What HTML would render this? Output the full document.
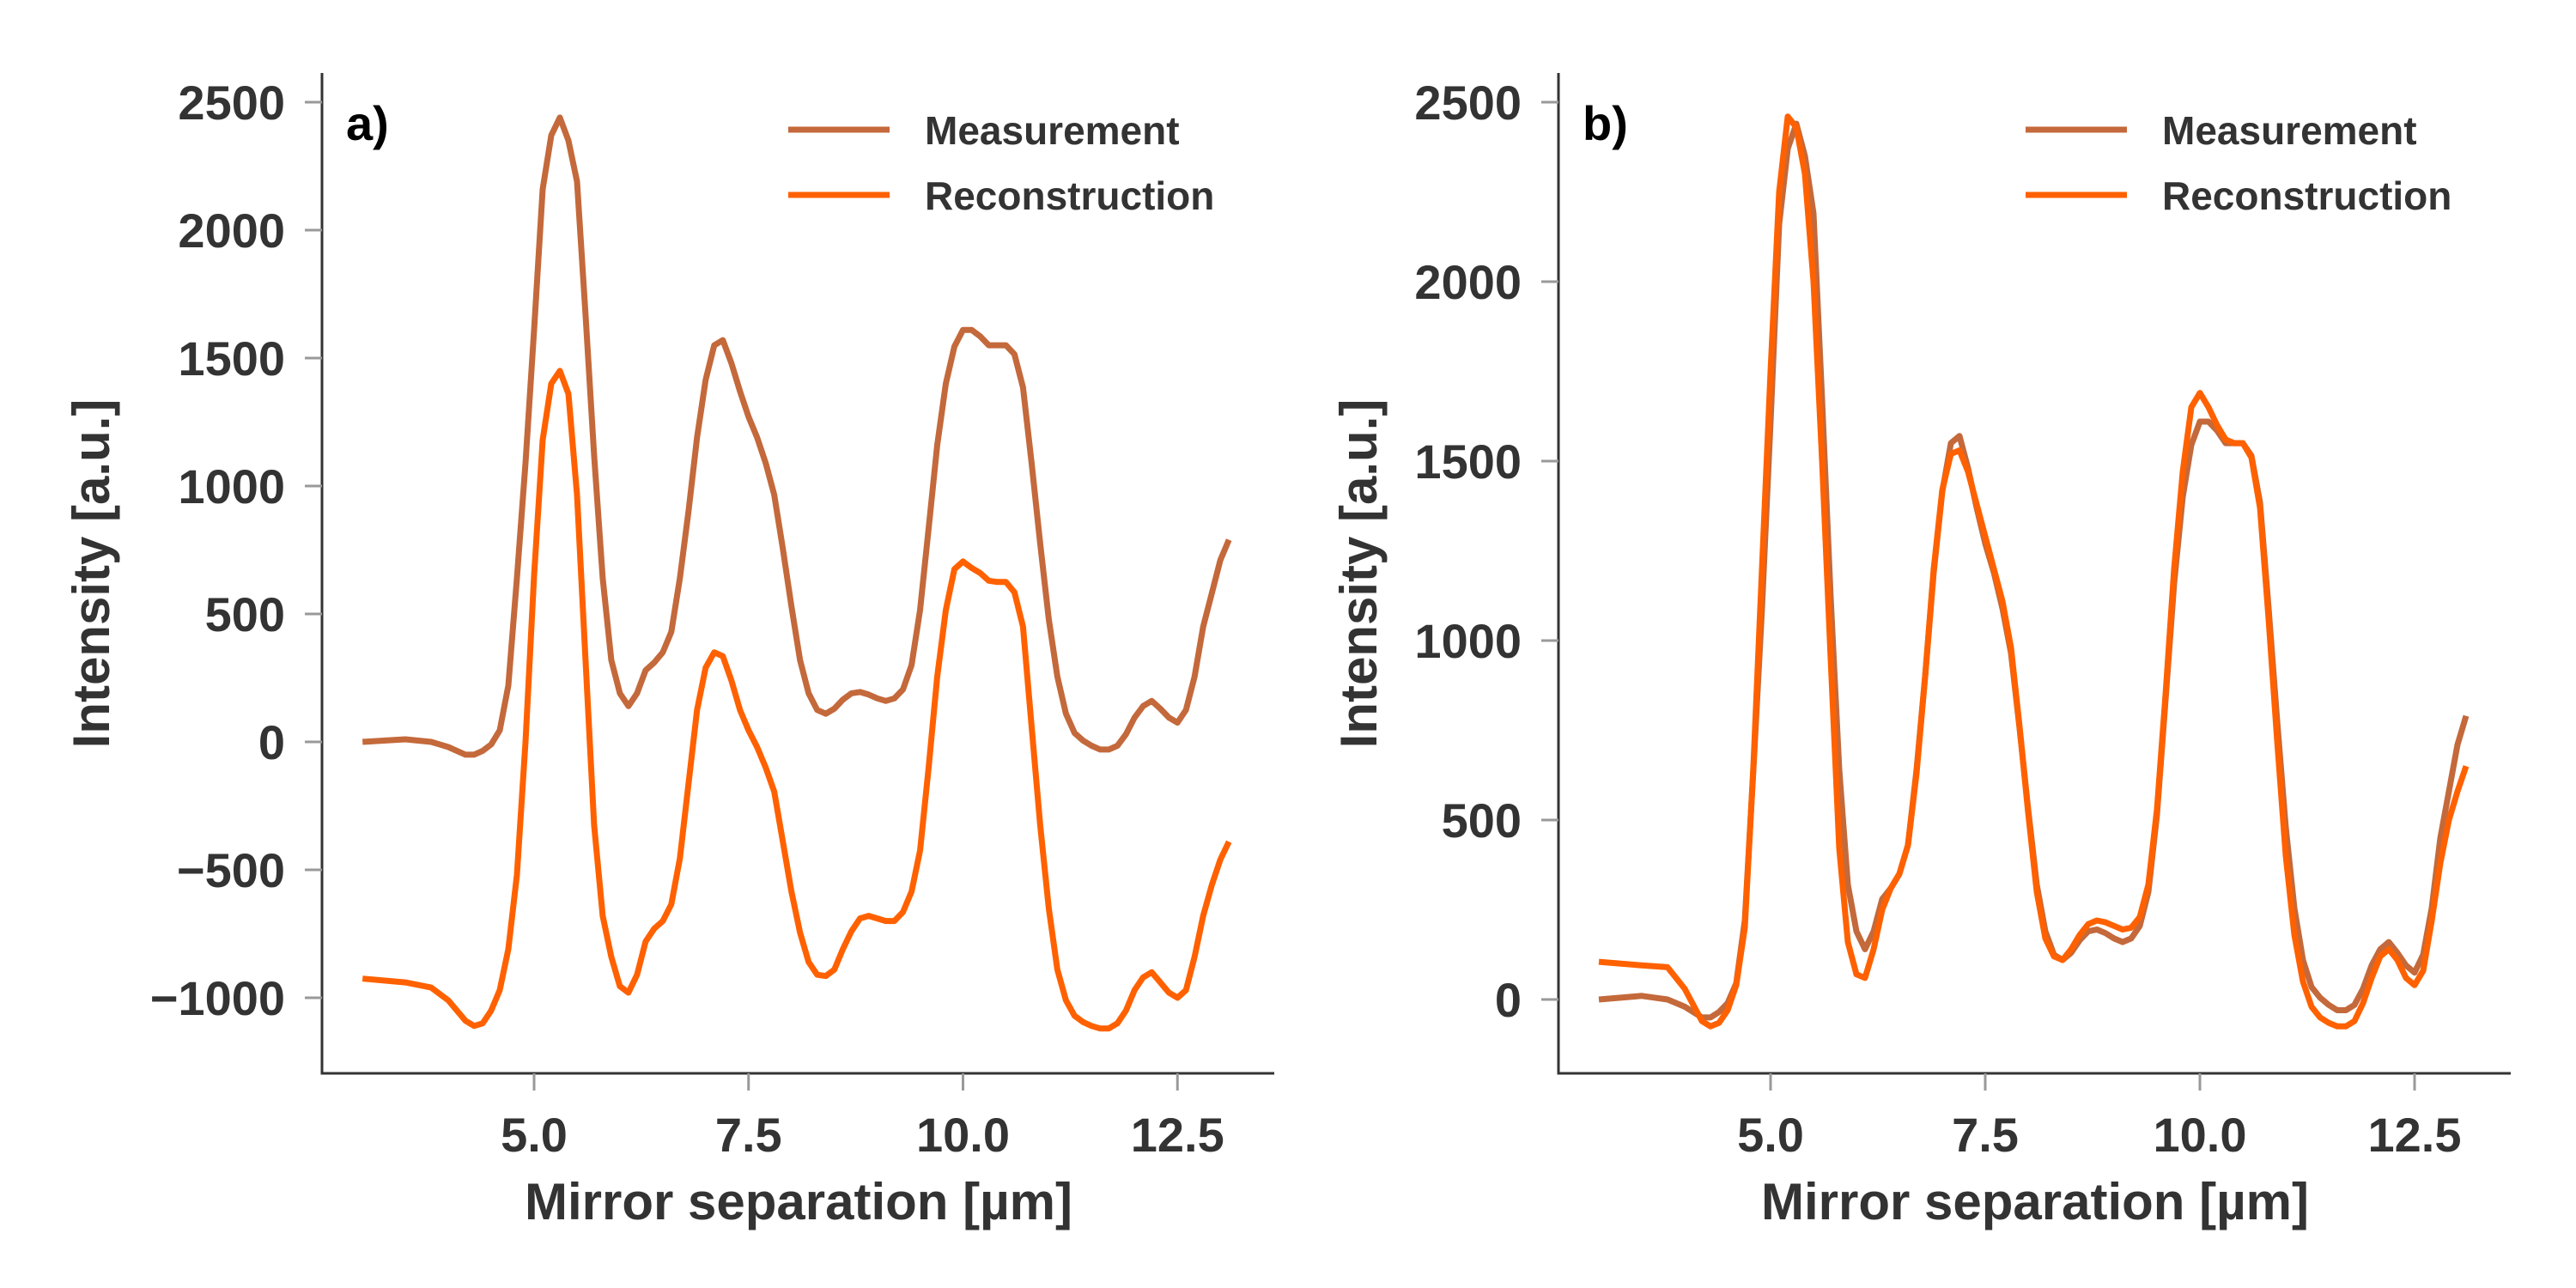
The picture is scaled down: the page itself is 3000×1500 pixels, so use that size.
<!DOCTYPE html>
<html><head><meta charset="utf-8"><style>
html,body{margin:0;padding:0;background:#fff;}
svg{display:block;font-family:"Liberation Sans",sans-serif;}
</style></head><body>
<svg id="chart" width="3000" height="1500" viewBox="0 0 3000 1500"></svg>
<script>
const xs=[3.0,3.5,3.8,4.0,4.2,4.3,4.4,4.5,4.6,4.7,4.8,4.9,5.0,5.1,5.2,5.3,5.4,5.5,5.6,5.7,5.8,5.9,6.0,6.1,6.2,6.3,6.4,6.5,6.6,6.7,6.8,6.9,7.0,7.1,7.2,7.3,7.4,7.5,7.6,7.7,7.8,7.9,8.0,8.1,8.2,8.3,8.4,8.5,8.6,8.7,8.8,8.9,9.0,9.1,9.2,9.3,9.4,9.5,9.6,9.7,9.8,9.9,10.0,10.1,10.2,10.3,10.4,10.5,10.6,10.7,10.8,10.9,11.0,11.1,11.2,11.3,11.4,11.5,11.6,11.7,11.8,11.9,12.0,12.1,12.2,12.3,12.4,12.5,12.6,12.7,12.8,12.9,13.0,13.1];
const measurement=[0,10,0,-20,-50,-50,-35,-10,45,220,640,1090,1610,2160,2370,2440,2350,2190,1670,1120,640,320,190,140,190,280,310,350,430,640,900,1190,1415,1550,1570,1480,1370,1270,1190,1090,965,755,530,320,190,125,110,130,165,190,195,185,170,160,170,205,300,515,835,1160,1400,1545,1610,1610,1585,1550,1550,1550,1515,1385,1090,775,480,255,110,35,5,-15,-30,-30,-15,30,95,140,160,130,95,75,125,255,450,580,710,790];
const reconA=[-925,-940,-960,-1010,-1090,-1110,-1100,-1050,-970,-810,-520,0,650,1180,1400,1450,1360,965,320,-325,-680,-840,-955,-980,-910,-780,-730,-700,-635,-455,-165,125,290,350,335,240,125,45,-20,-100,-195,-390,-585,-745,-860,-910,-915,-890,-810,-740,-690,-680,-690,-700,-700,-665,-585,-425,-100,255,515,675,705,680,660,630,625,625,585,450,60,-325,-650,-890,-1010,-1070,-1095,-1110,-1120,-1120,-1100,-1050,-970,-920,-900,-940,-980,-1000,-970,-840,-680,-560,-460,-390];
const reconB=[105,95,90,30,-60,-75,-65,-30,40,200,650,1200,1750,2250,2460,2430,2300,2000,1500,950,420,160,70,60,140,250,310,350,430,630,900,1200,1420,1520,1530,1470,1380,1290,1200,1110,980,760,520,300,170,120,110,140,180,210,220,215,205,195,200,230,320,530,850,1200,1470,1650,1690,1650,1600,1560,1550,1550,1510,1370,1060,720,400,180,50,-20,-50,-65,-75,-75,-60,-10,60,120,140,110,60,40,80,220,380,500,580,650];
const xTicks=[5.0,7.5,10.0,12.5];
const xTickLabels=["5.0","7.5","10.0","12.5"];
const yTicksA=[-1000,-500,0,500,1000,1500,2000,2500];
const yTickLabelsA=["\u22121000","\u2212500","0","500","1000","1500","2000","2500"];
const yTicksB=[0,500,1000,1500,2000,2500];
const yTickLabelsB=["0","500","1000","1500","2000","2500"];

const NS="http://www.w3.org/2000/svg";
const svg=document.getElementById('chart');
function mk(tag,attrs,parent){const e=document.createElementNS(NS,tag);for(const k in attrs)e.setAttribute(k,attrs[k]);(parent||svg).appendChild(e);return e;}
const MC="#c4693b", RC="#ff6100", TC="#333";

function panel(p){
  const g=mk('g',{});
  
  
  const sx=v=>p.x0+(v-5)*p.kx;
  const sy=v=>p.y0-v*p.ky;
  const ax=mk('path',{d:`M${p.ax},85 L${p.ax},1250 L${p.ax+1109},1250`,fill:'none',stroke:TC,'stroke-width':3},g);
  
  
  xTicks.forEach((t,i)=>{
    const X=sx(t);
    mk('line',{x1:X,y1:1250,x2:X,y2:1270,stroke:'#999','stroke-width':3},g);
    const tx=mk('text',{x:X,y:1341,'text-anchor':'middle','font-size':56,'font-weight':'bold',fill:TC},g);
    tx.textContent=xTickLabels[i];
    
    
  });
  p.yt.forEach((t,i)=>{
    const Y=sy(t);
    mk('line',{x1:p.ax-20,y1:Y,x2:p.ax,y2:Y,stroke:'#999','stroke-width':3},g);
    const tx=mk('text',{x:p.ax-43,y:Y+20,'text-anchor':'end','font-size':56,'font-weight':'bold',fill:TC},g);
    tx.textContent=p.yl[i];
    
    
  });
  const xt=mk('text',{x:p.ax+555,y:1420,'text-anchor':'middle','font-size':60,'font-weight':'bold',fill:TC},g);
  xt.textContent="Mirror separation [\u00b5m]";
  
  
  const yt=mk('text',{x:0,y:0,'text-anchor':'middle','font-size':60,'font-weight':'bold',fill:TC,transform:`translate(${p.ytx},668) rotate(-90)`},g);
  yt.textContent="Intensity [a.u.]";
  
  
  const lb=mk('text',{x:p.ax+28,y:163,'font-size':56,'font-weight':'bold',fill:'#000'},g);
  lb.textContent=p.label;
  
  
  p.series.forEach(s=>{
    const d=xs.map((x,i)=>(i?'L':'M')+sx(x).toFixed(1)+','+sy(s.v[i]).toFixed(1)).join(' ');
    const pl=mk('path',{d:d,fill:'none',stroke:s.c,'stroke-width':7,'stroke-linejoin':'round'},g);
    
    
  });
  [["Measurement",MC,151],["Reconstruction",RC,227]].forEach(([t,c,y])=>{
    const le=mk('g',{},g);
    
    
    mk('line',{x1:p.lx,y1:y,x2:p.lx+118,y2:y,stroke:c,'stroke-width':7},le);
    const tx=mk('text',{x:p.lx+159,y:y+17,'font-size':46,'font-weight':'bold',fill:TC},le);
    tx.textContent=t;
  });
}
panel({name:'panel-a',label:'a)',ax:375,x0:622,kx:99.9,y0:864,ky:149/500,yt:yTicksA,yl:yTickLabelsA,ytx:127,lx:918,
  series:[{n:'measurement-line',c:MC,v:measurement},{n:'reconstruction-line',c:RC,v:reconA}]});
panel({name:'panel-b',label:'b)',ax:1815,x0:2062,kx:100,y0:1164,ky:209/500,yt:yTicksB,yl:yTickLabelsB,ytx:1603,lx:2359,
  series:[{n:'measurement-line',c:MC,v:measurement},{n:'reconstruction-line',c:RC,v:reconB}]});
</script>
</body></html>
